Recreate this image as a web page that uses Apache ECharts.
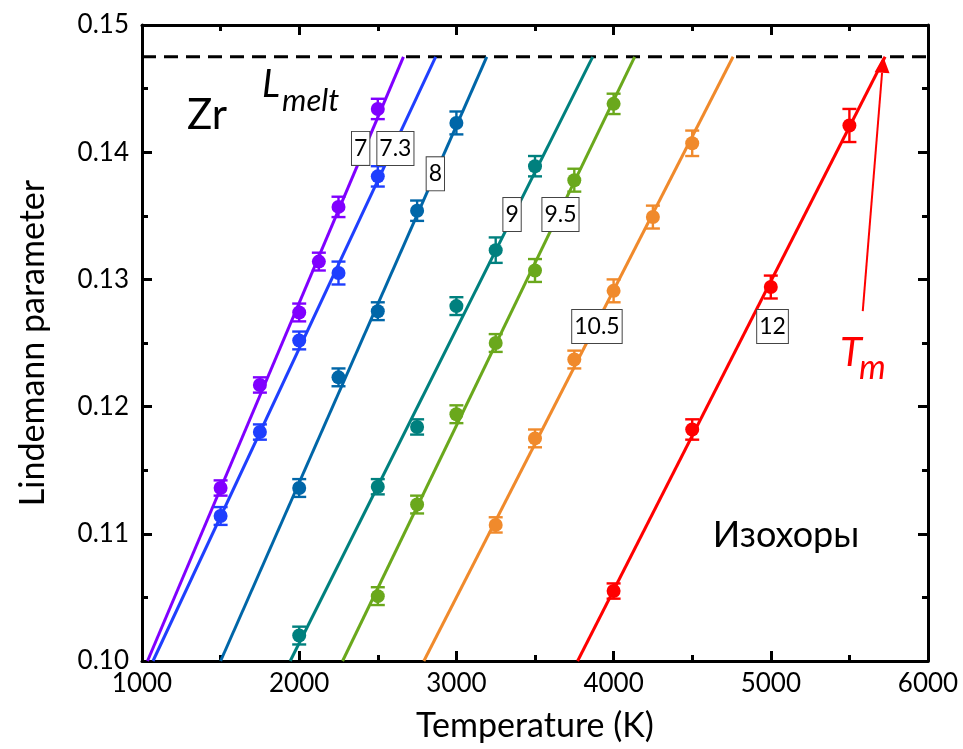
<!DOCTYPE html>
<html>
<head>
<meta charset="utf-8">
<title>Zr Lindemann parameter isochores</title>
<script src="https://cdn.jsdelivr.net/npm/echarts@6/dist/echarts.min.js"></script>
<style>
  html, body { margin: 0; padding: 0; background: #fff; }
  #chart { width: 963px; height: 749px; }
</style>
</head>
<body>
<div id="chart"></div>
<script>
// Isochore labels (volume, Å^3/atom) and colours
const isochoreLabels = ['7', '7.3', '8', '9', '9.5', '10.5', '12'];
const isochoreColors = ['#8000ff', '#1f3ffe', '#0066a8', '#00807e', '#6aa81c', '#f08a2c', '#ff0000'];

// Simulated points: temperature (K), Lindemann parameter, error
const temps7 = [1500, 1750, 2000, 2125, 2250, 2500];
const lind7 = [0.1136, 0.1217, 0.1274, 0.1314, 0.1357, 0.1434];
const err7 = [0.0006, 0.0006, 0.0007, 0.0007, 0.0008, 0.0008];

const temps73 = [1500, 1750, 2000, 2250, 2500];
const lind73 = [0.1114, 0.1180, 0.1252, 0.1305, 0.1381];
const err73 = [0.0007, 0.0006, 0.0007, 0.0009, 0.0008];

const temps8 = [2000, 2250, 2500, 2750, 3000];
const lind8 = [0.1136, 0.1223, 0.1275, 0.1354, 0.1423];
const err8 = [0.0007, 0.0007, 0.0007, 0.0008, 0.0009];

const temps9 = [2000, 2500, 2750, 3000, 3250, 3500];
const lind9 = [0.1020, 0.1137, 0.1184, 0.1279, 0.1323, 0.1389];
const err9 = [0.0007, 0.0006, 0.0006, 0.0007, 0.0010, 0.0008];

const temps95 = [2500, 2750, 3000, 3250, 3500, 3750, 4000];
const lind95 = [0.1051, 0.1123, 0.1194, 0.1250, 0.1307, 0.1378, 0.1438];
const err95 = [0.0007, 0.0007, 0.0007, 0.0007, 0.0009, 0.0009, 0.0008];

const temps105 = [3250, 3500, 3750, 4000, 4250, 4500];
const lind105 = [0.1107, 0.1175, 0.1237, 0.1291, 0.1349, 0.1407];
const err105 = [0.0006, 0.0007, 0.0007, 0.0009, 0.0009, 0.0010];

const temps12 = [4000, 4500, 5000, 5500];
const lind12 = [0.1055, 0.1182, 0.1294, 0.1421];
const err12 = [0.0006, 0.0008, 0.0009, 0.0013];

// Linear fits: temperature where each fit crosses L = 0.10 and L = L_melt
const fitStartT = [1035, 1070, 1500, 1943, 2276, 2793, 3771];
const fitEndT = [2663, 2868, 3193, 3867, 4134, 4760, 5727];

// Critical Lindemann parameter at melting
const lMelt = 0.1475;

// Positions of the isochore tags (temperature, Lindemann parameter)
const tagT = [2391, 2612, 2866, 3354, 3662, 3894, 5011];
const tagL = [0.1403, 0.1403, 0.1383, 0.1351, 0.1351, 0.1263, 0.1263];

// T_m arrow: from tail to tip (temperature, Lindemann parameter)
const arrowFrom = [5585, 0.1275];
const arrowTo = [5716, 0.1475];

// Axis ranges and ticks
const xMin = 1000, xMax = 6000, xStep = 1000;
const yMin = 0.10, yMax = 0.15, yStep = 0.01;

const pointSets = [
  [temps7, lind7, err7],
  [temps73, lind73, err73],
  [temps8, lind8, err8],
  [temps9, lind9, err9],
  [temps95, lind95, err95],
  [temps105, lind105, err105],
  [temps12, lind12, err12]
];

const FONT = 'Lato, "Open Sans", "DejaVu Sans", sans-serif';
const chart = echarts.init(document.getElementById('chart'), null, { renderer: 'canvas' });

const series = [];

// Melting criterion: dashed horizontal line
series.push({
  type: 'line',
  data: [[xMin, lMelt], [xMax, lMelt]],
  showSymbol: false,
  silent: true,
  lineStyle: { color: '#000', width: 3, type: [14, 8] },
  z: 2
});

pointSets.forEach(function (set, i) {
  const color = isochoreColors[i];
  // fitted line
  series.push({
    type: 'line',
    data: [[fitStartT[i], yMin], [fitEndT[i], lMelt]],
    showSymbol: false,
    silent: true,
    lineStyle: { color: color, width: 3 },
    z: 3
  });
  // error bars
  series.push({
    type: 'custom',
    silent: true,
    data: set[0].map(function (t, k) { return [t, set[1][k], set[2][k]]; }),
    renderItem: function (params, api) {
      const t = api.value(0), l = api.value(1), e = api.value(2);
      const top = api.coord([t, l + e]);
      const bot = api.coord([t, l - e]);
      const hw = 7;
      const style = { stroke: color, lineWidth: 2.4, fill: null };
      return {
        type: 'group',
        children: [
          { type: 'line', shape: { x1: top[0], y1: top[1], x2: bot[0], y2: bot[1] }, style: style },
          { type: 'line', shape: { x1: top[0] - hw, y1: top[1], x2: top[0] + hw, y2: top[1] }, style: style },
          { type: 'line', shape: { x1: bot[0] - hw, y1: bot[1], x2: bot[0] + hw, y2: bot[1] }, style: style }
        ]
      };
    },
    z: 4
  });
  // data points
  series.push({
    type: 'scatter',
    data: set[0].map(function (t, k) { return [t, set[1][k]]; }),
    symbol: 'circle',
    symbolSize: 14,
    itemStyle: { color: color, opacity: 1 },
    z: 5
  });
});

// Isochore tags: boxed text at the given coordinates
series.push({
  type: 'custom',
  silent: true,
  data: tagT.map(function (t, k) { return [t, tagL[k], k]; }),
  renderItem: function (params, api) {
    const p = api.coord([api.value(0), api.value(1)]);
    const k = api.value(2);
    return {
      type: 'text',
      x: p[0],
      y: p[1],
      style: {
        text: isochoreLabels[k],
        fontFamily: FONT,
        fontSize: 23,
        lineHeight: 26,
        fill: '#000',
        align: 'center',
        verticalAlign: 'middle',
        backgroundColor: '#fff',
        borderColor: '#444',
        borderWidth: 1,
        padding: [4, 2, 3, 2]
      }
    };
  },
  z: 8
});

// T_m arrow
series.push({
  type: 'custom',
  silent: true,
  data: [[arrowFrom[0], arrowFrom[1], arrowTo[0], arrowTo[1]]],
  renderItem: function (params, api) {
    const a = api.coord([api.value(0), api.value(1)]);
    const b = api.coord([api.value(2), api.value(3)]);
    const dx = b[0] - a[0], dy = b[1] - a[1];
    const len = Math.sqrt(dx * dx + dy * dy);
    const ux = dx / len, uy = dy / len;
    const hl = 16, hw = 7.5;
    const bx = b[0] - ux * hl, by = b[1] - uy * hl;
    return {
      type: 'group',
      children: [
        { type: 'line', shape: { x1: a[0], y1: a[1], x2: bx, y2: by }, style: { stroke: '#ff0000', lineWidth: 2 } },
        {
          type: 'polygon',
          shape: { points: [[b[0], b[1]], [bx - uy * hw, by + ux * hw], [bx + uy * hw, by - ux * hw]] },
          style: { fill: '#ff0000' }
        }
      ]
    };
  },
  z: 7
});

const tickLabelStyle = { color: '#000', fontSize: 26, fontFamily: FONT };
const axisLineStyle = { lineStyle: { color: '#000', width: 3 } };
const majorTick = { show: true, inside: true, length: 10, lineStyle: { color: '#000', width: 3 } };
const minorTick = { show: true, splitNumber: 2, length: 6, lineStyle: { color: '#000', width: 3 } };

const option = {
  animation: false,
  backgroundColor: '#fff',
  grid: { left: 142, top: 25, width: 786, height: 636, containLabel: false },
  xAxis: [
    {
      type: 'value', min: xMin, max: xMax, interval: xStep, position: 'bottom',
      axisLine: axisLineStyle, axisTick: majorTick, minorTick: minorTick,
      splitLine: { show: false },
      axisLabel: Object.assign({ margin: 10, formatter: function (v) { return String(v); } }, tickLabelStyle),
      name: 'Temperature (K)', nameLocation: 'middle', nameGap: 48,
      nameTextStyle: { color: '#000', fontSize: 34, fontFamily: FONT }
    },
    {
      type: 'value', min: xMin, max: xMax, interval: xStep, position: 'top',
      axisLine: axisLineStyle, axisTick: majorTick, minorTick: minorTick,
      splitLine: { show: false }, axisLabel: { show: false }
    }
  ],
  yAxis: [
    {
      type: 'value', min: yMin, max: yMax, interval: yStep, position: 'left',
      axisLine: axisLineStyle, axisTick: majorTick, minorTick: minorTick,
      splitLine: { show: false },
      axisLabel: Object.assign({ margin: 13, formatter: function (v) { return v.toFixed(2); } }, tickLabelStyle),
      name: 'Lindemann parameter', nameLocation: 'middle', nameGap: 92,
      nameTextStyle: { color: '#000', fontSize: 34, fontFamily: FONT }
    },
    {
      type: 'value', min: yMin, max: yMax, interval: yStep, position: 'right',
      axisLine: axisLineStyle, axisTick: majorTick, minorTick: minorTick,
      splitLine: { show: false }, axisLabel: { show: false }
    }
  ],
  graphic: [
    { type: 'text', x: 207, y: 115, style: { text: 'Zr', fontSize: 42, fontFamily: FONT, fill: '#000', align: 'center', verticalAlign: 'middle' }, z: 10 },
    { type: 'text', x: 262, y: 85, style: { text: 'L', fontSize: 38, fontStyle: 'italic', fontFamily: FONT, fill: '#000', align: 'left', verticalAlign: 'middle' }, z: 10 },
    { type: 'text', x: 282, y: 101, style: { text: 'melt', fontSize: 31, fontStyle: 'italic', fontFamily: FONT, fill: '#000', align: 'left', verticalAlign: 'middle' }, z: 10 },
    { type: 'text', x: 786, y: 535, style: { text: 'Изохоры', fontSize: 36, fontFamily: FONT, fill: '#000', align: 'center', verticalAlign: 'middle' }, z: 10 },
    { type: 'text', x: 840, y: 353, style: { text: 'T', fontSize: 40, fontStyle: 'italic', fontFamily: FONT, fill: '#ff0000', align: 'left', verticalAlign: 'middle' }, z: 10 },
    { type: 'text', x: 859, y: 368, style: { text: 'm', fontSize: 34, fontStyle: 'italic', fontFamily: FONT, fill: '#ff0000', align: 'left', verticalAlign: 'middle' }, z: 10 }
  ],
  series: series
};

chart.setOption(option);
</script>
</body>
</html>
